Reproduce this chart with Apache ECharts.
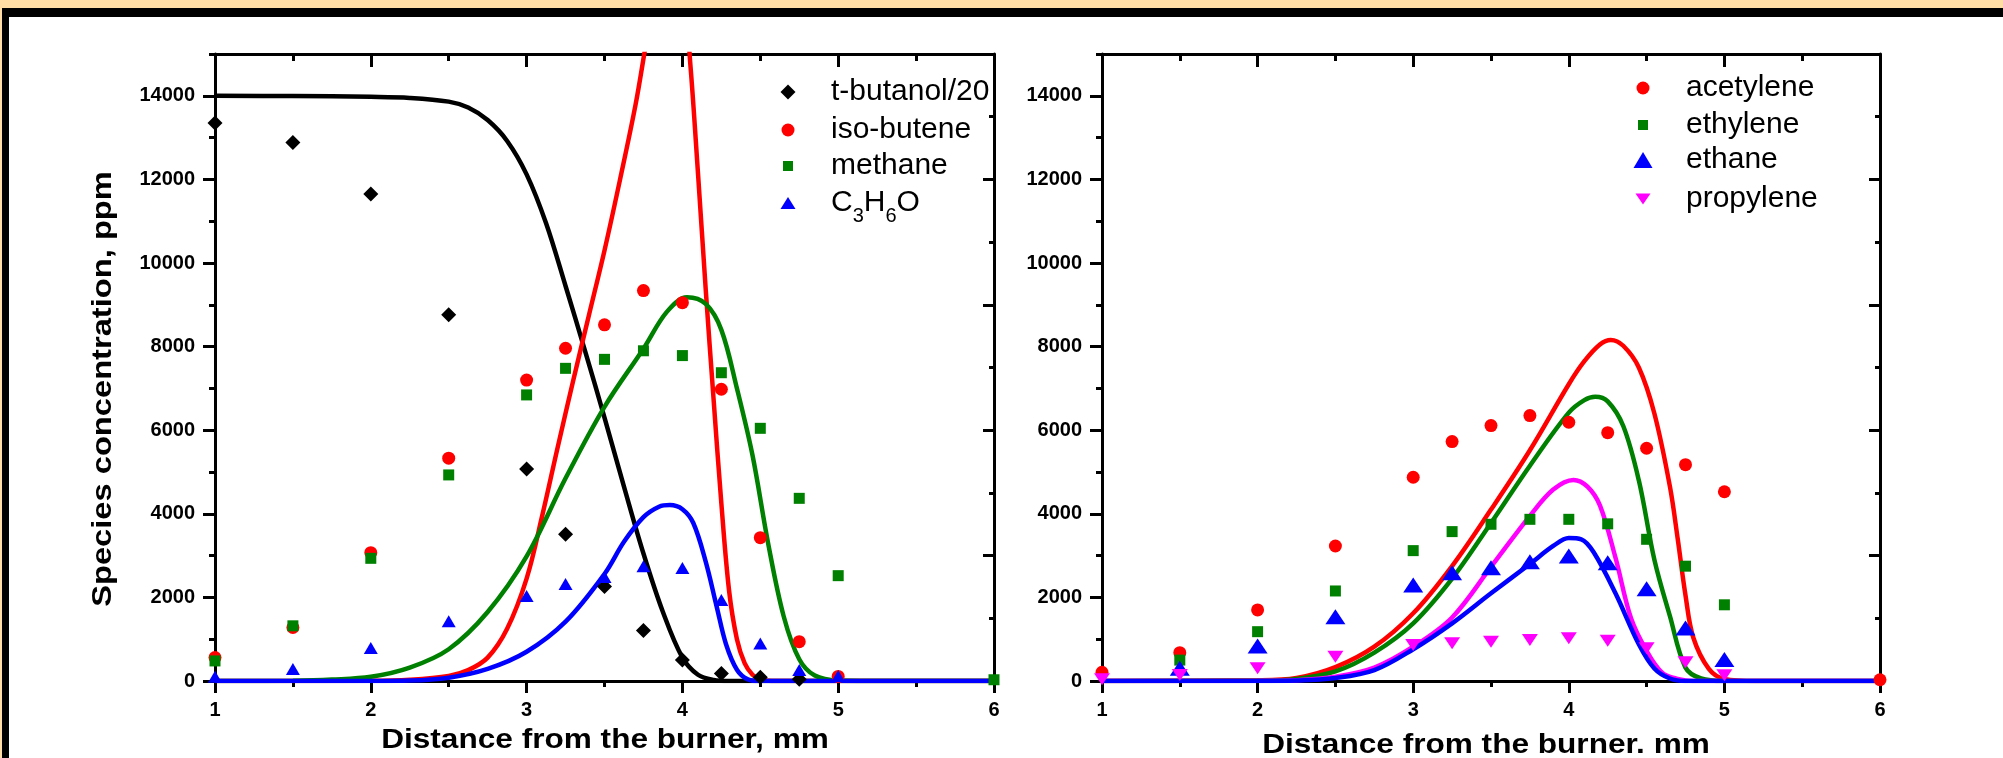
<!DOCTYPE html>
<html>
<head>
<meta charset="utf-8">
<title>Species concentration vs distance from the burner</title>
<script src="https://cdn.jsdelivr.net/npm/echarts@6.0.0/dist/echarts.min.js"></script>
<style>
  html, body { margin: 0; padding: 0; background: #fff; }
  #main { width: 2003px; height: 758px; }
</style>
</head>
<body>
<div id="main"></div>
<script>
// ---- axis ticks ----
var xTicks = [1, 2, 3, 4, 5, 6];
var yMajorTicks = [0, 2000, 4000, 6000, 8000, 10000, 12000, 14000];
var yMinorTicks = [1000, 3000, 5000, 7000, 9000, 11000, 13000, 15000];
var yMax = 15000;

// ---- measured points, left panel ----
var tButanolX = [1, 1.5, 2, 2.5, 3, 3.25, 3.5, 3.75, 4, 4.25, 4.5, 4.75];
var tButanol = [13350, 12880, 11650, 8760, 5070, 3510, 2260, 1210, 500, 180, 90, 40];
var isoButeneX = [1, 1.5, 2, 2.5, 3, 3.25, 3.5, 3.75, 4, 4.25, 4.5, 4.75, 5];
var isoButene = [560, 1280, 3070, 5330, 7200, 7960, 8520, 9340, 9050, 6980, 3430, 940, 110];
var methaneX = [1, 1.5, 2, 2.5, 3, 3.25, 3.5, 3.75, 4, 4.25, 4.5, 4.75, 5, 6];
var methane = [480, 1320, 2935, 4930, 6844, 7480, 7695, 7900, 7785, 7375, 6045, 4370, 2520, 30];
var c3h6oX = [1, 1.5, 2, 2.5, 3, 3.25, 3.5, 3.75, 4, 4.25, 4.5, 4.75, 5];
var c3h6o = [100, 290, 790, 1430, 2034, 2321, 2490, 2744, 2705, 1938, 900, 263, 120];

// ---- model curves, left panel ----
var tButanolFit = [[1, 14000], [1.5, 13995], [2, 13975], [2.25, 13950], [2.5, 13860], [2.625, 13720],
  [2.75, 13420], [2.875, 12920], [3, 12120], [3.125, 10950], [3.25, 9450], [3.375, 7900], [3.5, 6300],
  [3.625, 4650], [3.75, 3050], [3.875, 1650], [4, 560], [4.1, 150], [4.2, 25], [4.3, 0], [6, 0]];
var isoButeneFit = [[1, 0], [2, 5], [2.25, 30], [2.5, 120], [2.625, 260], [2.75, 560], [2.875, 1250],
  [3, 2450], [3.1, 3950], [3.2, 5600], [3.3, 7200], [3.4, 8750], [3.5, 10300], [3.6, 12000],
  [3.7, 13800], [3.8, 15900], [3.9, 17300], [4, 16700], [4.05, 14800], [4.1, 12150], [4.15, 9350],
  [4.2, 6750], [4.25, 4250], [4.3, 2150], [4.35, 1000], [4.4, 420], [4.45, 150], [4.5, 40], [4.6, 0], [6, 0]];
var methaneFit = [[1, 0], [1.5, 8], [1.75, 35], [2, 100], [2.25, 320], [2.5, 760], [2.75, 1650],
  [3, 2980], [3.25, 4850], [3.5, 6560], [3.75, 7950], [3.9, 8830], [4.03, 9180], [4.15, 9020],
  [4.25, 8400], [4.35, 7000], [4.45, 5400], [4.55, 3300], [4.65, 1550], [4.75, 520], [4.85, 130],
  [5, 10], [5.2, 0], [6, 0]];
var c3h6oFit = [[1, 0], [2, 0], [2.25, 10], [2.5, 80], [2.75, 290], [3, 700], [3.25, 1420], [3.5, 2560],
  [3.625, 3330], [3.75, 3920], [3.85, 4170], [3.92, 4210], [4, 4110], [4.07, 3780], [4.15, 2850],
  [4.22, 1780], [4.28, 880], [4.35, 270], [4.42, 40], [4.5, 0], [6, 0]];

// ---- measured points, right panel ----
var acetyleneX = [1, 1.5, 2, 2.5, 3, 3.25, 3.5, 3.75, 4, 4.25, 4.5, 4.75, 5, 6];
var acetylene = [210, 678, 1700, 3230, 4874, 5727, 6110, 6350, 6190, 5940, 5568, 5175, 4528, 30];
var ethyleneX = [1.5, 2, 2.5, 3, 3.25, 3.5, 3.75, 4, 4.25, 4.5, 4.75, 5];
var ethylene = [500, 1180, 2154, 3119, 3574, 3749, 3868, 3868, 3760, 3390, 2747, 1823];
var ethaneX = [1.5, 2, 2.5, 3, 3.25, 3.5, 3.75, 4, 4.25, 4.5, 4.75, 5];
var ethane = [303, 837, 1540, 2297, 2592, 2712, 2855, 2991, 2831, 2205, 1265, 517];
var propyleneX = [1, 1.5, 2, 2.5, 3, 3.25, 3.5, 3.75, 4, 4.25, 4.5, 4.75, 5];
var propylene = [40, 144, 303, 582, 861, 901, 941, 981, 1021, 965, 782, 450, 135];

// ---- model curves, right panel ----
var acetyleneFit = [[1, 0], [2, 15], [2.25, 70], [2.5, 330], [2.75, 820], [3, 1620], [3.25, 2750],
  [3.5, 4100], [3.75, 5520], [4, 7100], [4.1, 7650], [4.2, 8050], [4.27, 8160], [4.35, 8020],
  [4.45, 7500], [4.55, 6400], [4.65, 4650], [4.7, 3400], [4.75, 2050], [4.8, 1040], [4.9, 290],
  [5, 50], [5.2, 0], [6, 0]];
var ethyleneFit = [[1, 0], [2, 10], [2.25, 50], [2.5, 230], [2.75, 680], [3, 1380], [3.25, 2450],
  [3.5, 3780], [3.75, 5150], [4, 6420], [4.1, 6720], [4.17, 6800], [4.25, 6690], [4.35, 6100],
  [4.45, 4800], [4.55, 2900], [4.65, 1550], [4.75, 320], [4.85, 60], [5, 0], [6, 0]];
var propyleneFit = [[1, 0], [2, 5], [2.25, 20], [2.5, 100], [2.75, 320], [3, 820], [3.25, 1520],
  [3.5, 2730], [3.75, 3950], [3.9, 4580], [4.03, 4810], [4.12, 4650], [4.2, 4200], [4.3, 2950],
  [4.4, 1500], [4.5, 720], [4.6, 200], [4.7, 50], [4.8, 0], [6, 0]];
var ethaneFit = [[1, 0], [2, 0], [2.25, 10], [2.5, 70], [2.75, 260], [3, 760], [3.25, 1380],
  [3.5, 2100], [3.75, 2800], [3.9, 3230], [4, 3420], [4.08, 3390], [4.16, 3080], [4.3, 2100],
  [4.45, 880], [4.55, 300], [4.65, 60], [4.75, 0], [6, 0]];

var FONT = '"Liberation Sans", Arial, Helvetica, sans-serif';
var RED = '#ff0000', GREEN = '#008000', BLUE = '#0000ff', MAGENTA = '#ff00ff', BLACK = '#000000';

function pairs(xs, ys) {
  return ys.map(function (y, i) { return [xs[i], y]; });
}

var tickLine = { color: BLACK, width: 3 };

function bottomAxis(g) {
  return {
    type: 'value', gridIndex: g, position: 'bottom',
    min: xTicks[0], max: xTicks[xTicks.length - 1], interval: 1,
    axisLine: { onZero: false, lineStyle: { color: BLACK, width: 3 } },
    axisTick: { length: 12, lineStyle: tickLine },
    minorTick: { show: true, splitNumber: 2, length: 6, lineStyle: tickLine },
    axisLabel: { margin: 19, fontSize: 20, fontWeight: 'bold', fontFamily: FONT, color: BLACK },
    splitLine: { show: false }, minorSplitLine: { show: false }
  };
}
function topAxis(g) {
  return {
    type: 'value', gridIndex: g, position: 'top',
    min: xTicks[0], max: xTicks[xTicks.length - 1], interval: 1,
    axisLine: { onZero: false, lineStyle: { color: BLACK, width: 3 } },
    axisTick: { inside: true, length: 13, lineStyle: tickLine },
    minorTick: { show: true, splitNumber: 2, length: 7, lineStyle: tickLine },
    axisLabel: { show: false },
    splitLine: { show: false }, minorSplitLine: { show: false }
  };
}
function leftAxis(g) {
  return {
    type: 'value', gridIndex: g, position: 'left', min: 0, max: yMax, interval: 2000,
    axisLine: { onZero: false, lineStyle: { color: BLACK, width: 3 } },
    axisTick: { length: 12, customValues: yMajorTicks, lineStyle: tickLine },
    axisLabel: {
      customValues: yMajorTicks, margin: 20, fontSize: 20, fontWeight: 'bold',
      fontFamily: FONT, color: BLACK, formatter: function (v) { return String(v); }
    },
    splitLine: { show: false }
  };
}
function leftMinorAxis(g) {
  return {
    type: 'value', gridIndex: g, position: 'left', min: 0, max: yMax,
    axisLine: { show: false },
    axisTick: { length: 6, customValues: yMinorTicks, lineStyle: tickLine },
    axisLabel: { show: false },
    splitLine: { show: false }
  };
}
function rightAxis(g) {
  return {
    type: 'value', gridIndex: g, position: 'right', min: 0, max: yMax, interval: 3000,
    axisLine: { onZero: false, lineStyle: { color: BLACK, width: 3 } },
    axisTick: { inside: true, length: 11, lineStyle: tickLine },
    minorTick: { show: true, splitNumber: 2, length: 5, lineStyle: tickLine },
    axisLabel: { show: false },
    splitLine: { show: false }, minorSplitLine: { show: false }
  };
}

function fit(name, data, color, xi, yi) {
  return {
    name: name, type: 'line', xAxisIndex: xi, yAxisIndex: yi, data: data,
    smooth: 0.35, showSymbol: false, clip: true, z: 2,
    lineStyle: { color: color, width: 4.5 }, itemStyle: { color: color }
  };
}
function points(name, data, color, symbol, size, xi, yi, rotate) {
  return {
    name: name, type: 'scatter', xAxisIndex: xi, yAxisIndex: yi, data: data,
    symbol: symbol, symbolSize: size, symbolRotate: rotate || 0, z: 3,
    itemStyle: { color: color, opacity: 1 }
  };
}

// one legend block per entry so each marker keeps its own size
function legendEntry(name, cx, cy, w, h, extra) {
  var item = { name: name };
  if (extra && extra.icon) item.icon = extra.icon;
  var o = {
    data: [item], orient: 'vertical', left: cx - w / 2, top: cy - 13,
    itemWidth: w, itemHeight: h, padding: 0, selectedMode: false,
    textStyle: { fontSize: 30, fontFamily: FONT, color: BLACK, padding: [0, 0, 0, 38 - w / 2] }
  };
  if (extra && extra.formatter) {
    o.formatter = extra.formatter;
    o.textStyle.rich = extra.rich;
  }
  return o;
}

var subRich = {
  formatter: function () { return '{n|C}{s|3}{n|H}{s|6}{n|O}'; },
  rich: {
    n: { fontSize: 30, fontFamily: FONT, color: BLACK },
    s: { fontSize: 20, fontFamily: FONT, color: BLACK, padding: [27, 0, 0, 0] }
  }
};
var downTriangle = { icon: 'path://M0,0L15,0L7.5,11Z' };

var option = {
  animation: false,
  backgroundColor: '#ffffff',
  grid: [
    { left: 215, top: 54, width: 779, height: 627 },
    { left: 1102, top: 54, width: 778, height: 627 }
  ],
  xAxis: [bottomAxis(0), topAxis(0), bottomAxis(1), topAxis(1)],
  yAxis: [leftAxis(0), leftMinorAxis(0), rightAxis(0), leftAxis(1), leftMinorAxis(1), rightAxis(1)],
  legend: [
    legendEntry('t-butanol/20', 788, 90, 15, 15),
    legendEntry('iso-butene', 788, 128, 13, 13),
    legendEntry('methane', 788, 164, 10, 10),
    legendEntry('C3H6O', 788, 201, 15, 12, subRich),
    legendEntry('acetylene', 1643, 86, 13, 13),
    legendEntry('ethylene', 1643, 123, 10, 10),
    legendEntry('ethane', 1643, 158, 19, 16),
    legendEntry('propylene', 1643, 197, 15, 11, downTriangle)
  ],
  graphic: [
    { type: 'rect', shape: { x: 0, y: 0, width: 2003, height: 8 }, style: { fill: '#ffdda4' }, silent: true },
    { type: 'rect', shape: { x: 0, y: 0, width: 2, height: 758 }, style: { fill: '#ffdda4' }, silent: true },
    { type: 'rect', shape: { x: 2, y: 8, width: 2001, height: 9 }, style: { fill: BLACK }, silent: true },
    { type: 'rect', shape: { x: 2, y: 8, width: 7, height: 750 }, style: { fill: BLACK }, silent: true },
    {
      type: 'text', x: 104, y: 389, rotation: Math.PI / 2, scaleX: 1.21, silent: true,
      style: { text: 'Species concentration, ppm', fontSize: 27, fontWeight: 'bold', fontFamily: FONT,
        fill: BLACK, align: 'center', verticalAlign: 'middle' }
    },
    {
      type: 'text', x: 605, y: 741, scaleX: 1.17, silent: true,
      style: { text: 'Distance from the burner, mm', fontSize: 27, fontWeight: 'bold', fontFamily: FONT,
        fill: BLACK, align: 'center', verticalAlign: 'middle' }
    },
    {
      type: 'text', x: 1486, y: 746, scaleX: 1.17, silent: true,
      style: { text: 'Distance from the burner. mm', fontSize: 27, fontWeight: 'bold', fontFamily: FONT,
        fill: BLACK, align: 'center', verticalAlign: 'middle' }
    }
  ],
  series: [
    fit('t-butanol model', tButanolFit, BLACK, 0, 0),
    fit('iso-butene model', isoButeneFit, RED, 0, 0),
    fit('methane model', methaneFit, GREEN, 0, 0),
    fit('C3H6O model', c3h6oFit, BLUE, 0, 0),
    points('t-butanol/20', pairs(tButanolX, tButanol), BLACK, 'diamond', 15, 0, 0),
    points('iso-butene', pairs(isoButeneX, isoButene), RED, 'circle', 13, 0, 0),
    points('methane', pairs(methaneX, methane), GREEN, 'rect', 11, 0, 0),
    points('C3H6O', pairs(c3h6oX, c3h6o), BLUE, 'triangle', [14, 12], 0, 0),

    fit('acetylene model', acetyleneFit, RED, 2, 3),
    fit('ethylene model', ethyleneFit, GREEN, 2, 3),
    fit('propylene model', propyleneFit, MAGENTA, 2, 3),
    fit('ethane model', ethaneFit, BLUE, 2, 3),
    points('acetylene', pairs(acetyleneX, acetylene), RED, 'circle', 13, 2, 3),
    points('ethylene', pairs(ethyleneX, ethylene), GREEN, 'rect', 11, 2, 3),
    points('ethane', pairs(ethaneX, ethane), BLUE, 'triangle', [20, 15], 2, 3),
    points('propylene', pairs(propyleneX, propylene), MAGENTA, 'triangle', [16, 12], 2, 3, 180)
  ]
};

var chart = echarts.init(document.getElementById('main'), null, { renderer: 'canvas' });
chart.setOption(option);
</script>
</body>
</html>
